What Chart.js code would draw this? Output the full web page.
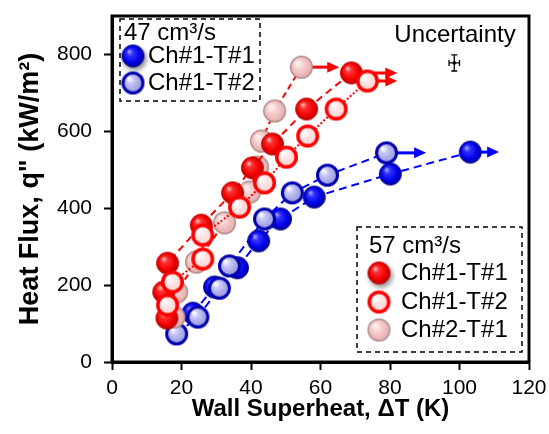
<!DOCTYPE html>
<html>
<head>
<meta charset="utf-8">
<script src="https://cdn.jsdelivr.net/npm/chart.js@4.4.1/dist/chart.umd.min.js"></script>
<style>
  html, body { margin: 0; padding: 0; background: #fff; }
  #wrap { width: 549px; height: 434px; position: relative; }
</style>
</head>
<body>
<div id="wrap"><canvas id="c" width="549" height="434"></canvas></div>
<script>
// Axis ticks
const xTicks = [0, 20, 40, 60, 80, 100, 120];
const yTicks = [0, 200, 400, 600, 800];

// 47 cm³/s runs: wall superheat ΔT (K) and heat flux q" (kW/m²)
const ch1t1_47_dT = [23.3, 29.5, 36.1, 42.2, 48.5, 58.2, 80.1, 103.1];
const ch1t1_47_q  = [127, 195, 245, 315, 372, 429, 489, 546];
const ch1t2_47_dT = [18.6, 24.7, 30.9, 33.8, 43.9, 51.9, 62.0, 79.0];
const ch1t2_47_q  = [73, 117, 192, 250, 372, 440, 486, 544];

// 57 cm³/s runs
const ch1t1_57_dT = [15.8, 14.9, 16.0, 25.7, 34.7, 40.4, 46.2, 56.0, 68.9];
const ch1t1_57_q  = [114, 182, 257, 356, 440, 505, 567, 658, 752];
const ch1t2_57_dT = [16.0, 17.4, 26.1, 26.1, 36.7, 43.9, 50.2, 56.3, 64.5, 73.5];
const ch1t2_57_q  = [148, 208, 268, 330, 403, 466, 533, 588, 658, 731];
const ch2t1_57_dT = [17.8, 18.6, 24.3, 32.4, 39.6, 41.9, 43.0, 46.8, 54.5];
const ch2t1_57_q  = [117, 182, 260, 362, 442, 507, 575, 653, 767];

// ΔT reached past the last stable point (arrow tips)
const arrowTipDT = { ch1t1_47: 111.4, ch1t2_47: 90.4, ch1t1_57: 82.1, ch1t2_57: 82.1, ch2t1_57: 65.4 };

// Representative measurement uncertainty
const uncPoint = { dT: 98.5, q: 778, errDT: 1.5, errQ: 21 };

const FONT = "'Liberation Sans', Arial, sans-serif";

function pts(xs, ys) { return xs.map((x, i) => ({ x, y: ys[i] })); }

// Shaded sphere markers
function sprite(r, stops, ringColor, ringW) {
  const s = Math.ceil(2 * r + 4);
  const c = document.createElement('canvas');
  c.width = c.height = s;
  const g = c.getContext('2d');
  const cx = s / 2, cy = s / 2;
  const grad = g.createRadialGradient(cx - r * 0.35, cy - r * 0.4, r * 0.05, cx, cy, r);
  stops.forEach(([o, col]) => grad.addColorStop(o, col));
  g.beginPath();
  g.arc(cx, cy, r - ringW / 2, 0, Math.PI * 2);
  g.fillStyle = grad;
  g.fill();
  if (ringW) { g.lineWidth = ringW; g.strokeStyle = ringColor; g.stroke(); }
  return c;
}
const R = 11.5;
const mBlueSolid = sprite(R, [[0, '#a0a0ff'], [0.25, '#3030ff'], [0.7, '#0000e8'], [1, '#000090']], '#000080', 1);
const mBlueLight = sprite(R, [[0, '#ffffff'], [0.3, '#c8c8f6'], [1, '#8a8ad8']], '#0000b0', 3);
const mRedSolid  = sprite(R, [[0, '#ffb4b4'], [0.25, '#ff3030'], [0.7, '#f00000'], [1, '#b00000']], '#c00000', 1);
const mRedRing   = sprite(R, [[0, '#ffffff'], [0.4, '#ffe6e6'], [1, '#ffc8c8']], '#ff0000', 3.5);
const mPink      = sprite(R, [[0, '#fff4f4'], [0.4, '#f7d0d0'], [1, '#e6a8a8']], '#a88888', 1.2);

const series = [
  { key: 'ch1t2_57', data: pts(ch1t2_57_dT, ch1t2_57_q), color: '#ff0000', dash: [2, 2], marker: mRedRing, order: 1 },
  { key: 'ch1t1_57', data: pts(ch1t1_57_dT, ch1t1_57_q), color: '#ff0000', dash: [7, 5], marker: mRedSolid, order: 2 },
  { key: 'ch2t1_57', data: pts(ch2t1_57_dT, ch2t1_57_q), color: '#ff0000', dash: [6, 4], marker: mPink, order: 3 },
  { key: 'ch1t2_47', data: pts(ch1t2_47_dT, ch1t2_47_q), color: '#0000ff', dash: [8, 5], marker: mBlueLight, order: 4 },
  { key: 'ch1t1_47', data: pts(ch1t1_47_dT, ch1t1_47_q), color: '#0000ff', dash: [8, 5], marker: mBlueSolid, order: 5 }
];

const datasets = series.map(s => ({
  label: s.key,
  data: s.data,
  showLine: true,
  borderColor: s.color,
  borderWidth: 2,
  borderDash: s.dash,
  pointStyle: s.marker,
  pointRadius: R,
  order: s.order,
  clip: false
}));

// Frame round the plot
const framePlugin = {
  id: 'frame',
  afterDraw(chart) {
    const { ctx, chartArea: a } = chart;
    ctx.save();
    ctx.strokeStyle = '#000';
    ctx.lineWidth = 3;
    ctx.strokeRect(a.left, a.top, a.right - a.left, a.bottom - a.top);
    ctx.restore();
  }
};

// Arrows: superheat kept rising at the last heat flux
const arrowPlugin = {
  id: 'arrows',
  beforeDatasetsDraw(chart) {
    const { ctx, scales: { x, y } } = chart;
    ctx.save();
    series.forEach(s => {
      const last = s.data[s.data.length - 1];
      const x0 = x.getPixelForValue(last.x), y0 = y.getPixelForValue(last.y);
      const x1 = x.getPixelForValue(arrowTipDT[s.key]);
      ctx.strokeStyle = s.color; ctx.fillStyle = s.color;
      ctx.lineWidth = 3;
      ctx.beginPath(); ctx.moveTo(x0, y0); ctx.lineTo(x1 - 9, y0); ctx.stroke();
      ctx.beginPath(); ctx.moveTo(x1, y0); ctx.lineTo(x1 - 12, y0 - 5.5); ctx.lineTo(x1 - 12, y0 + 5.5); ctx.closePath(); ctx.fill();
    });
    ctx.restore();
  }
};

// Legend boxes and the uncertainty marker
function drawMarker(ctx, m, cx, cy, shadow) {
  ctx.save();
  if (shadow) {
    ctx.shadowColor = 'rgba(0,0,0,0.45)';
    ctx.shadowBlur = 5; ctx.shadowOffsetX = 2; ctx.shadowOffsetY = 3;
  }
  ctx.drawImage(m, cx - m.width / 2, cy - m.height / 2);
  ctx.restore();
}
const legendPlugin = {
  id: 'boxes',
  afterDraw(chart) {
    const { ctx, scales: { x, y } } = chart;
    ctx.save();
    ctx.strokeStyle = '#000';
    ctx.lineWidth = 1.5;
    ctx.setLineDash([5, 4]);
    ctx.strokeRect(120, 19, 140, 82);
    ctx.strokeRect(357, 227, 165, 125);
    ctx.setLineDash([]);
    ctx.fillStyle = '#000';
    ctx.textBaseline = 'middle';
    ctx.font = `24px ${FONT}`;
    ctx.fillText('47 cm³/s', 124, 33);
    drawMarker(ctx, mBlueSolid, 133, 56, true);
    ctx.fillText('Ch#1-T#1', 148, 56);
    drawMarker(ctx, mBlueLight, 133, 83, false);
    ctx.fillText('Ch#1-T#2', 148, 83);

    ctx.fillText('57 cm³/s', 369, 246);
    drawMarker(ctx, mRedSolid, 379, 273, true);
    ctx.fillText('Ch#1-T#1', 401, 273);
    drawMarker(ctx, mRedRing, 379, 302, false);
    ctx.fillText('Ch#1-T#2', 401, 302);
    drawMarker(ctx, mPink, 379, 330, false);
    ctx.fillText('Ch#2-T#1', 401, 330);

    ctx.textAlign = 'center';
    ctx.fillText('Uncertainty', 455, 35);

    // error bar
    const cx = x.getPixelForValue(uncPoint.dT), cy = y.getPixelForValue(uncPoint.q);
    const xl = x.getPixelForValue(uncPoint.dT - uncPoint.errDT), xr = x.getPixelForValue(uncPoint.dT + uncPoint.errDT);
    const yt = y.getPixelForValue(uncPoint.q + uncPoint.errQ), yb = y.getPixelForValue(uncPoint.q - uncPoint.errQ);
    ctx.lineWidth = 1.3;
    ctx.beginPath();
    ctx.moveTo(xl, cy); ctx.lineTo(xr, cy);
    ctx.moveTo(xl, cy - 3); ctx.lineTo(xl, cy + 3);
    ctx.moveTo(xr, cy - 3); ctx.lineTo(xr, cy + 3);
    ctx.moveTo(cx, yt); ctx.lineTo(cx, yb);
    ctx.moveTo(cx - 3, yt); ctx.lineTo(cx + 3, yt);
    ctx.moveTo(cx - 3, yb); ctx.lineTo(cx + 3, yb);
    ctx.stroke();
    ctx.fillRect(cx - 1.5, cy - 1.5, 3, 3);
    ctx.restore();
  }
};

const axisCommon = {
  type: 'linear',
  grid: { drawOnChartArea: false, drawTicks: true, tickLength: 8, tickWidth: 2, tickColor: '#000' },
  border: { display: true, color: '#000', width: 3 }
};

new Chart(document.getElementById('c'), {
  type: 'scatter',
  data: { datasets },
  options: {
    responsive: false,
    animation: false,
    devicePixelRatio: 1,
    layout: { padding: { top: 16, right: 20, left: 0, bottom: 0 } },
    plugins: { legend: { display: false }, tooltip: { enabled: false } },
    scales: {
      x: Object.assign({}, axisCommon, {
        min: 0, max: 120,
        afterBuildTicks: s => { s.ticks = xTicks.map(v => ({ value: v })); },
        afterFit: s => { s.height = 72; s.paddingLeft = 0; s.paddingRight = 0; },
        ticks: { color: '#000', font: { family: FONT, size: 21 }, padding: 6, maxRotation: 0 },
        title: { display: true, text: 'Wall Superheat, ΔT (K)', color: '#000',
                 font: { family: FONT, size: 24, weight: 'bold' }, padding: { top: 0, bottom: 10 } }
      }),
      y: Object.assign({}, axisCommon, {
        min: 0, max: 900,
        afterBuildTicks: s => { s.ticks = yTicks.map(v => ({ value: v })); },
        afterFit: s => { s.width = 112; s.paddingTop = 0; s.paddingBottom = 0; },
        ticks: { color: '#000', font: { family: FONT, size: 21 }, padding: 12 },
        title: { display: true, text: 'Heat Flux, q" (kW/m²)', color: '#000',
                 font: { family: FONT, size: 27, weight: 'bold' }, padding: { top: 14, bottom: 0 } }
      })
    }
  },
  plugins: [arrowPlugin, framePlugin, legendPlugin]
});
</script>
</body>
</html>
